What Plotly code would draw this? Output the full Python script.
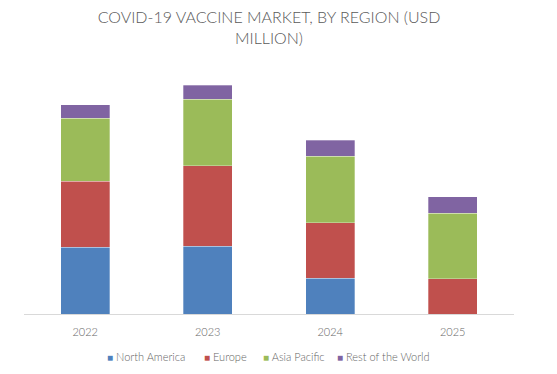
import plotly.graph_objects as go

years = ["2022", "2023", "2024", "2025"]
north_america = [67, 68, 36, 0]
europe = [66, 80.5, 55.5, 35.5]
asia_pacific = [63, 66.5, 66.5, 65.5]
rest_of_world = [13.5, 14, 15.7, 16.5]

series = [
    ("North America", north_america, "#4F81BD"),
    ("Europe", europe, "#C0504D"),
    ("Asia Pacific", asia_pacific, "#9BBB59"),
    ("Rest of the World", rest_of_world, "#8064A2"),
]

# page has an 8px body margin, so the figure is drawn 8px smaller and offset
OFF = 8
W, H = 557 - OFF, 374 - OFF
L, T = 24 - OFF, 60 - OFF
R = W - (514 - OFF)
B = H - (314 - OFF)
pw = W - L - R
ph = H - T - B

legend_x = [105, 202, 261, 335]  # legend entry left edges (screen px)
legend_y = 356

fig = go.Figure()
for name, vals, color in series:
    fig.add_trace(go.Bar(
        x=years, y=vals, name=name,
        marker=dict(color=color, line=dict(color="rgba(255,255,255,0.5)", width=0.6)),
        width=0.4,
    ))

for (name, _, color), lx in zip(series, legend_x):
    fig.add_annotation(
        text=f'<span style="color:{color};font-size:10px">■</span> {name}',
        x=(lx - OFF - L) / pw, xref="paper", xanchor="left",
        y=((314 - OFF) - (legend_y - OFF)) / ph, yref="paper", yanchor="middle",
        showarrow=False, font=dict(size=11, color="#666666", family="Lato", weight=300),
    )

fig.update_layout(
    barmode="stack",
    width=W, height=H,
    margin=dict(l=L, r=R, t=T, b=B, autoexpand=False),
    paper_bgcolor="white", plot_bgcolor="white",
    font=dict(family="Lato", color="#666666", size=11),
    title=dict(
        text="COVID-19 VACCINE MARKET, BY REGION (USD<br>MILLION)",
        x=0.5, xref="paper", xanchor="center",
        y=1 - 15 / H, yref="container", yanchor="top",
        font=dict(family="Lato", size=16, color="#595959", weight=300),
    ),
    xaxis=dict(
        showline=True, linecolor="#D9D9D9", linewidth=1.3,
        showgrid=False, ticks="", ticklabelstandoff=8,
        tickfont=dict(size=11, color="#666666", weight=300),
    ),
    yaxis=dict(range=[0, 254], visible=False),
    showlegend=False,
)

fig.write_html("out.html")
